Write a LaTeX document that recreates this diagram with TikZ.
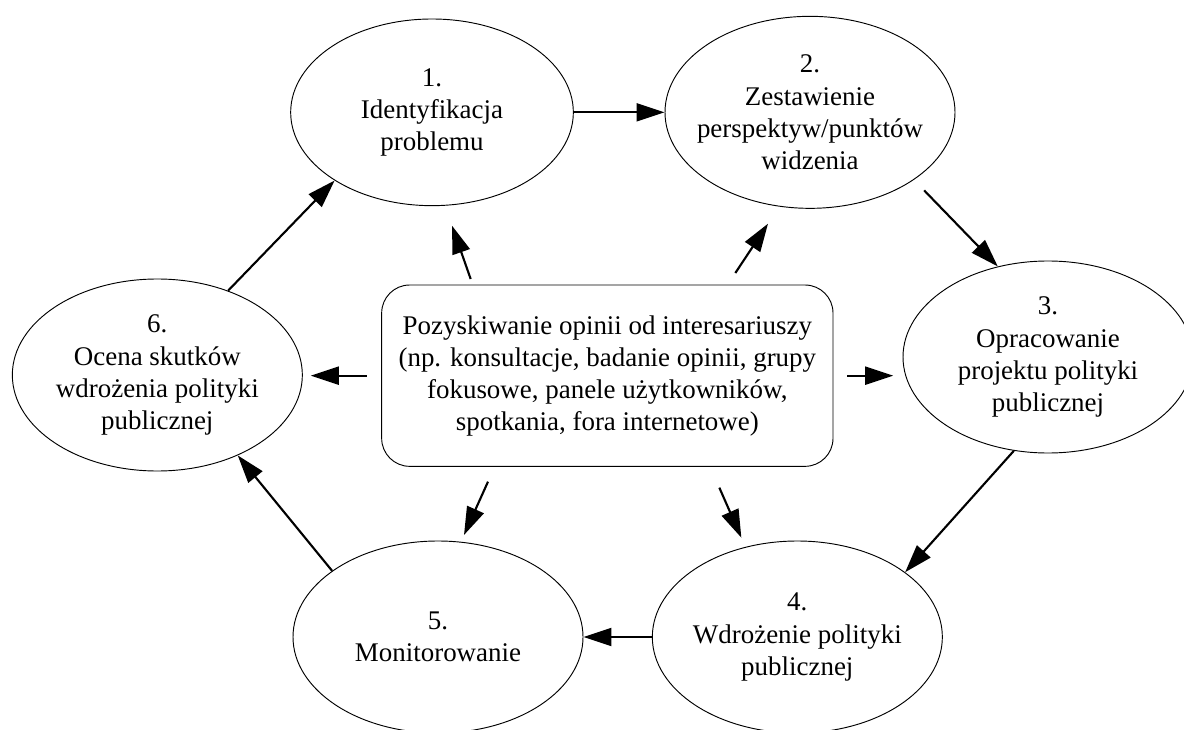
\documentclass[tikz,border=0pt]{standalone}
\usepackage{fontspec}
\setmainfont{Liberation Serif}
\usetikzlibrary{positioning,arrows.meta,calc,shapes.geometric}

\begin{document}
\begin{tikzpicture}[>={Triangle[length=4.2mm,width=2.7mm]},
	stage/.style={ellipse,draw,line width=0.4pt,minimum width=4.35cm,minimum height=2.88cm,
		inner xsep=-0.2cm,inner ysep=0pt,align=center,font=\fontsize{11.5}{13.7}\selectfont},
	hub/.style={rectangle,draw,rounded corners=0.42cm,line width=0.4pt,minimum width=6.77cm,
		minimum height=2.72cm,align=center,font=\fontsize{11.5}{13.7}\selectfont},
	arr/.style={->,line width=0.9pt}]
\useasboundingbox (0,0) rectangle (17.76,10.935);
%	\draw[lightgray] (0,0) grid (17,10);

\node[stage,minimum width=4.24cm,minimum height=2.8cm] (Ident) at (6.48,9.25) {1.\\Identyfikacja\\problemu};
\node[stage] (Persp) at (12.15,9.25) {2.\\Zestawienie\\perspektyw/punktów\\widzenia};
\node[stage] (Draft) at (15.72,5.58) {3.\\Opracowanie\\projektu polityki\\publicznej};
\node[stage] (Impl) at (11.96,1.38) {4.\\Wdrożenie polityki\\publicznej};
\node[stage] (Monit) at (6.57,1.38) {5.\\Monitorowanie};
\node[stage] (Eval) at (2.36,5.31) {6.\\Ocena skutków\\wdrożenia polityki\\publicznej};

\node[hub] (Opinion) at (9.11,5.30) {Pozyskiwanie opinii od interesariuszy\\
	(np. konsultacje, badanie opinii, grupy\\fokusowe, panele użytkowników,\\
	spotkania, fora internetowe)};

\coordinate (OpIdentS) at (7.06,6.75);
\coordinate (OpIdentE) at (6.78,7.55);
\coordinate (OpPerspS) at (11.03,6.84);
\coordinate (OpPerspE) at (11.52,7.58);
\coordinate (OpImplS) at (10.79,3.62);
\coordinate (OpImplE) at (11.12,2.87);
\coordinate (OpMonitS) at (7.32,3.71);
\coordinate (OpMonitE) at (6.96,2.91);

% cykl
\draw[arr] (Ident.east) -- (Persp.west);
\draw[arr,shorten <=0.22cm] (Persp.-33) -- (Draft.119);
\draw[arr] (Draft.-110) -- (Impl.31);
\draw[arr] (Impl.west) -- (Monit.east);
\draw[arr] (Monit.148) -- (Eval.-45);
\draw[arr] (Eval.50) -- (Ident.-145);

% opinie
\draw[arr] (OpIdentS) -- (OpIdentE);
\draw[arr] (OpPerspS) -- (OpPerspE);
\draw[arr,shorten <=0.21cm,shorten >=0.14cm] (Opinion.east) -- (Opinion.east -| Draft.west);
\draw[arr] (OpImplS) -- (OpImplE);
\draw[arr] (OpMonitS) -- (OpMonitE);
\draw[arr,shorten <=0.22cm,shorten >=0.12cm] (Opinion.west) -- (Opinion.west -| Eval.east);
\end{tikzpicture}
\end{document}
